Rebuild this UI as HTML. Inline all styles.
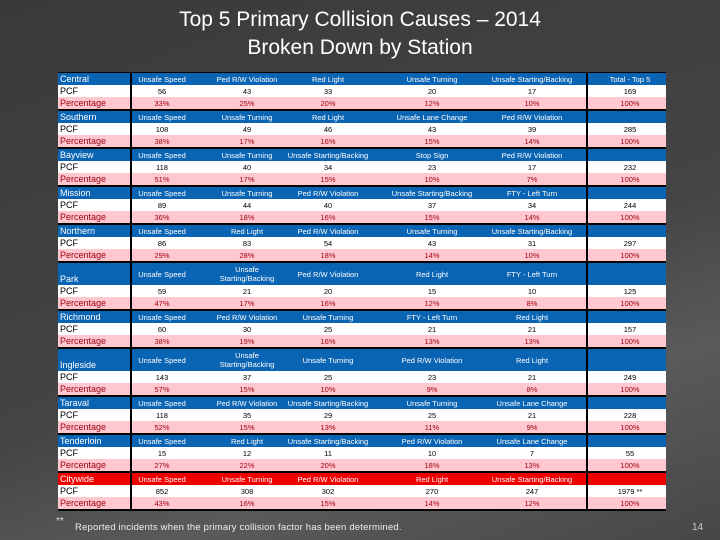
<!DOCTYPE html>
<html><head><meta charset="utf-8">
<style>
*{margin:0;padding:0;box-sizing:border-box}
body{width:720px;height:540px;overflow:hidden;font-family:"Liberation Sans",sans-serif}
#slide{position:relative;width:720px;height:540px;background:linear-gradient(160deg,#3a3a3a 0%,#444 55%,#5a5a5a 75%,#474747 100%)}
.title{position:absolute;left:0;width:720px;text-align:center;color:#fff;font-size:21px}
#tbl{position:absolute;left:58px;top:72px;width:608px;height:439px;background:#000}
.row{position:absolute;left:0;width:608px}
.cell{position:absolute;top:0;height:100%;display:flex;align-items:center;justify-content:center;text-align:center;font-size:7.5px;line-height:9px;white-space:nowrap}
.lab{position:absolute;left:2px;top:0;height:100%;display:flex;align-items:flex-end;font-size:9px;padding-bottom:1px}
.vline{position:absolute;top:0;width:2px;height:439px;background:#000}
</style></head><body>
<div id="slide">
<div class="title" style="top:8px">Top 5 Primary Collision Causes –  2014</div>
<div class="title" style="top:36px">Broken Down by Station</div>
<div id="tbl"></div>
<div style="position:absolute;left:56px;top:516px;color:#ddd;font-size:10px">**</div>
<div style="position:absolute;left:75px;top:522px;color:#eee;font-size:9.5px;letter-spacing:0.2px">Reported incidents when the primary collision factor has been determined.</div>
<div style="position:absolute;left:692px;top:522px;color:#ccc;font-size:10px">14</div>
</div>
<script>
const stations=["Central","Southern","Bayview","Mission","Northern","Park","Richmond","Ingleside","Taraval","Tenderloin","Citywide"];
const causes=[
["Unsafe Speed","Ped R/W Violation","Red Light","Unsafe Turning","Unsafe Starting/Backing"],
["Unsafe Speed","Unsafe Turning","Red Light","Unsafe Lane Change","Ped R/W Violation"],
["Unsafe Speed","Unsafe Turning","Unsafe Starting/Backing","Stop Sign","Ped R/W Violation"],
["Unsafe Speed","Unsafe Turning","Ped R/W Violation","Unsafe Starting/Backing","FTY - Left Turn"],
["Unsafe Speed","Red Light","Ped R/W Violation","Unsafe Turning","Unsafe Starting/Backing"],
["Unsafe Speed","Unsafe<br>Starting/Backing","Ped R/W Violation","Red Light","FTY - Left Turn"],
["Unsafe Speed","Ped R/W Violation","Unsafe Turning","FTY - Left Turn","Red Light"],
["Unsafe Speed","Unsafe<br>Starting/Backing","Unsafe Turning","Ped R/W Violation","Red Light"],
["Unsafe Speed","Ped R/W Violation","Unsafe Starting/Backing","Unsafe Turning","Unsafe Lane Change"],
["Unsafe Speed","Red Light","Unsafe Starting/Backing","Ped R/W Violation","Unsafe Lane Change"],
["Unsafe Speed","Unsafe Turning","Ped R/W Violation","Red Light","Unsafe Starting/Backing"]];
const pcf=[[56,43,33,20,17],[108,49,46,43,39],[118,40,34,23,17],[89,44,40,37,34],[86,83,54,43,31],[59,21,20,15,10],[60,30,25,21,21],[143,37,25,23,21],[118,35,29,25,21],[15,12,11,10,7],[852,308,302,270,247]];
const pct=[[33,25,20,12,10],[38,17,16,15,14],[51,17,15,10,7],[36,18,16,15,14],[29,28,18,14,10],[47,17,16,12,8],[38,19,16,13,13],[57,15,10,9,8],[52,15,13,11,9],[27,22,20,18,13],[43,16,15,14,12]];
const totals=["169","285","232","244","297","125","157","249","228","55","1979 **"];
const tall=[false,false,false,false,false,true,false,true,false,false,false];
const colC=[104,189,270,374,474,572]; // column centers relative to table
const tbl=document.getElementById('tbl');
let y=1;
function mkRow(top,h,bg,name){const r=document.createElement('div');r.className='row';r.style.top=top+'px';r.style.height=h+'px';r.style.background=bg;


tbl.appendChild(r);return r;}
function mkCell(row,i,html,color,name){const c=document.createElement('div');c.className='cell';c.style.left=(colC[i]-50)+'px';c.style.width='100px';c.style.color=color;c.innerHTML=html;


row.appendChild(c);}
function mkLab(row,t,color){const l=document.createElement('div');l.className='lab';l.style.color=color;l.textContent=t;


row.appendChild(l);}
stations.forEach((s,k)=>{
 const city=k===stations.length-1;
 const hh=tall[k]?22:12;
 const hdr=mkRow(y,hh,city?'#ee0000':'#0a64b4',s.toLowerCase()+'-header-row');
 mkLab(hdr,s,'#fff');
 causes[k].forEach((c,i)=>mkCell(hdr,i,c,'#fff','cause-'+(i+1)));
 if(k===0) mkCell(hdr,5,'Total - Top 5','#fff','total-header');
 y+=hh;
 const p=mkRow(y,12,'#fff',s.toLowerCase()+'-pcf-row');
 mkLab(p,'PCF','#000');
 pcf[k].forEach((v,i)=>mkCell(p,i,v,'#000','pcf-'+(i+1)));
 mkCell(p,5,totals[k],'#000','total-pcf');
 y+=12;
 const q=mkRow(y,12,'#ffc8d0',s.toLowerCase()+'-percentage-row');
 mkLab(q,'Percentage','#a00010');
 pct[k].forEach((v,i)=>mkCell(q,i,v+'%','#a00010','pct-'+(i+1)));
 mkCell(q,5,'100%','#a00010','total-pct');
 y+=12+2;
});
[72,528].forEach((x,i)=>{const v=document.createElement('div');v.className='vline';v.style.left=x+'px';


tbl.appendChild(v);});
</script>
</body></html>
